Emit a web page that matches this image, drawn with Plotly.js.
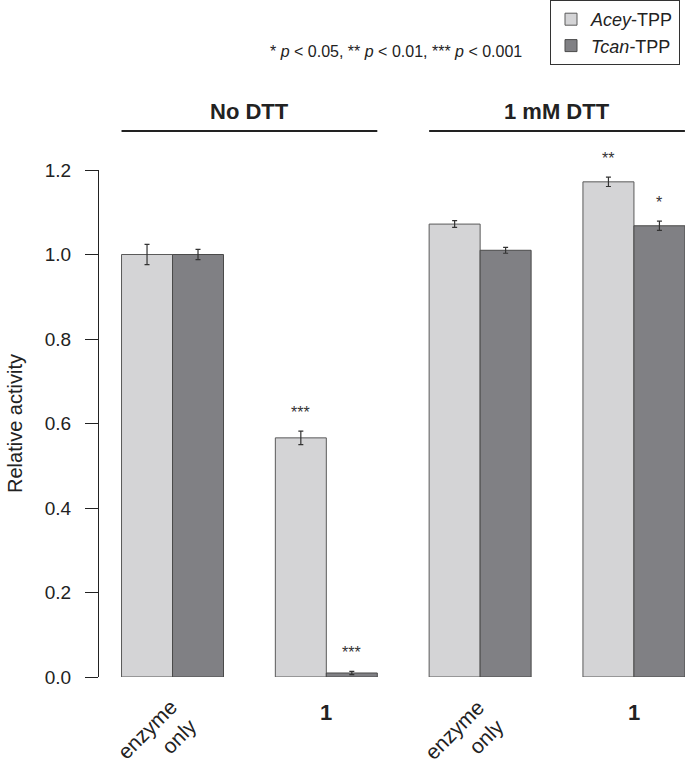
<!DOCTYPE html>
<html>
<head>
<meta charset="utf-8">
<script src="https://cdn.plot.ly/plotly-3.0.1.min.js"></script>
<style>html,body{margin:0;padding:0;background:#fff;}#chart{width:685px;height:766px;}</style>
</head>
<body>
<div id="chart"></div>
<script>
// ---- data ----
const categories = ["enzyme<br>only", "1", "enzyme<br>only", "1"];
const conditions = ["No DTT", "1 mM DTT"];
const seriesNames = ["<i>Acey</i>-TPP", "<i>Tcan</i>-TPP"];
const aceyVals = [1.000, 0.566, 1.072, 1.172];
const aceyErr  = [0.024, 0.016, 0.008, 0.011];
const tcanVals = [1.000, 0.0095, 1.010, 1.068];
const tcanErr  = [0.012, 0.004, 0.007, 0.011];
const aceySig  = ["", "***", "", "**"];
const tcanSig  = ["", "***", "", "*"];
const yTicks = [0, 0.2, 0.4, 0.6, 0.8, 1.0, 1.2];
const yTickText = ["0.0", "0.2", "0.4", "0.6", "0.8", "1.0", "1.2"];

// ---- layout constants ----
const FONT = "Liberation Sans, Arial, Helvetica, sans-serif";
const bargap = 0.337;
const half = (1 - bargap) / 4;   // half bar width in category units
const xs = categories.map((_, i) => i);

const traces = [
  {type: "bar", name: seriesNames[0], x: xs, y: aceyVals,
   marker: {color: "#d4d4d6", line: {color: "#5a5a5a", width: 1}},
   error_y: {type: "data", array: aceyErr, visible: true, color: "#333", thickness: 1.2, width: 2.5}},
  {type: "bar", name: seriesNames[1], x: xs, y: tcanVals,
   marker: {color: "#808084", line: {color: "#4a4a4a", width: 1}},
   error_y: {type: "data", array: tcanErr, visible: true, color: "#333", thickness: 1.2, width: 2.5}}
];

const annotations = [];
const shapes = [];
// significance stars
[[aceyVals, aceyErr, aceySig, -half], [tcanVals, tcanErr, tcanSig, half]].forEach(([v, e, s, off]) => {
  s.forEach((txt, i) => {
    if (!txt) return;
    annotations.push({x: i + off, y: v[i] + e[i], xref: "x", yref: "y", text: txt, showarrow: false,
      yanchor: "bottom", yshift: 8, font: {family: FONT, size: 16, color: "#333"}});
  });
});
// category labels
categories.forEach((c, i) => {
  if (c.indexOf("enzyme") >= 0) {
    annotations.push({x: i, y: 0, xref: "x", yref: "paper", text: c, showarrow: false,
      textangle: -45, align: "right", xanchor: "center", yanchor: "middle", xshift: -16, yshift: -62,
      font: {family: FONT, size: 21, color: "#222"}});
  } else {
    annotations.push({x: i, y: 0, xref: "x", yref: "paper", text: "<b>" + c + "</b>", showarrow: false,
      xanchor: "center", yanchor: "middle", yshift: -35, font: {family: FONT, size: 22, color: "#222"}});
  }
});
// condition headers with lines
conditions.forEach((c, g) => {
  const x0 = 2 * g - 2 * half, x1 = 2 * g + 1 + 2 * half;
  shapes.push({type: "line", xref: "x", yref: "paper", x0: x0, x1: x1, y0: 1.077, y1: 1.077,
    line: {color: "#222", width: 2}});
  annotations.push({x: 2 * g + 0.5, y: 1.077, xref: "x", yref: "paper", text: "<b>" + c + "</b>",
    showarrow: false, yanchor: "bottom", yshift: 5, font: {family: FONT, size: 22, color: "#222"}});
});
// p-value note
annotations.push({x: (396 - 99) / 586, y: (677 - 52) / 507, xref: "paper", yref: "paper",
  text: "* <i>p</i> &lt; 0.05, ** <i>p</i> &lt; 0.01, *** <i>p</i> &lt; 0.001", showarrow: false,
  xanchor: "center", yanchor: "middle", font: {family: FONT, size: 16, color: "#222"}});

const layout = {
  width: 685, height: 766,
  margin: {l: 99, r: 0, t: 170, b: 89},
  paper_bgcolor: "#fff", plot_bgcolor: "#fff",
  font: {family: FONT, color: "#222"},
  barmode: "group", bargap: bargap, bargroupgap: 0,
  showlegend: true,
  legend: {x: (550 - 99) / 586, y: 677 / 507, xanchor: "left", yanchor: "top",
    bordercolor: "#333", borderwidth: 1, bgcolor: "#fff",
    font: {family: FONT, size: 18, color: "#222"}, itemclick: false},
  xaxis: {range: [-0.478, 3.332], showgrid: false, zeroline: false, showline: false,
    showticklabels: false, ticks: "", fixedrange: true},
  yaxis: {range: [0, 1.2], tickvals: yTicks, ticktext: yTickText, showgrid: false, zeroline: false,
    showline: true, linecolor: "#222", linewidth: 1, ticks: "outside", ticklen: 13, tickcolor: "#222",
    ticklabelstandoff: 10,
    tickfont: {family: FONT, size: 19, color: "#222"},
    title: {text: "Relative activity", font: {family: FONT, size: 20, color: "#222"}, standoff: 16}},
  annotations: annotations,
  shapes: shapes
};

Plotly.newPlot("chart", traces, layout, {displayModeBar: false, staticPlot: true});
</script>
</body>
</html>
